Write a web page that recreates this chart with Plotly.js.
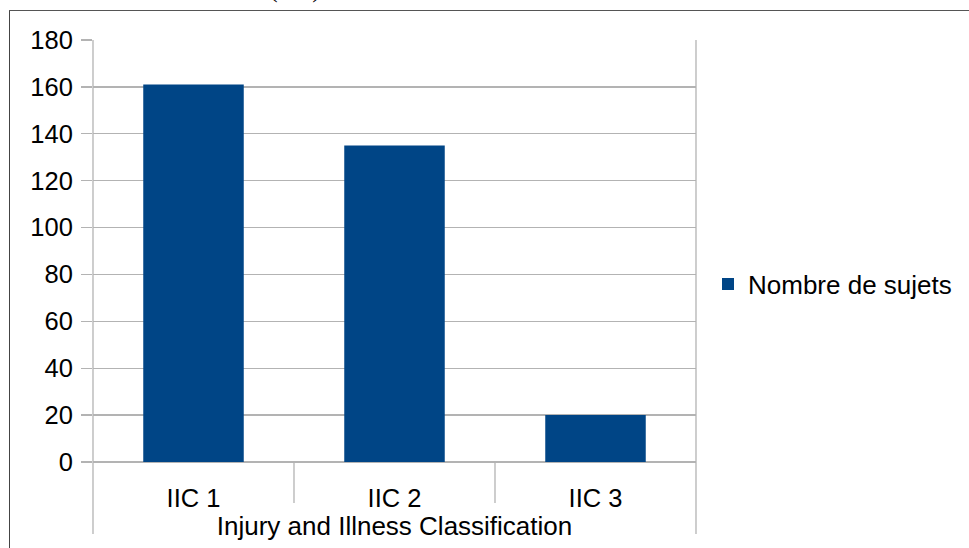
<!DOCTYPE html>
<html>
<head>
<meta charset="utf-8">
<script src="https://cdn.plot.ly/plotly-3.0.1.min.js"></script>
<style>html,body{margin:0;padding:0;background:#fff}#chart{width:969px;height:548px}</style>
</head>
<body>
<div id="chart"></div>
<script>
const categories = ["IIC 1", "IIC 2", "IIC 3"];
const values = [161, 135, 20];
const seriesName = "Nombre de sujets";
const yTicks = [0, 20, 40, 60, 80, 100, 120, 140, 160, 180];
const xTitle = "Injury and Illness Classification";
const topCaption = "(IIC)";

const FONT = "Liberation Sans, Arial, sans-serif";
const GRID = "#b3b3b3";
const plotL = 93, plotR = 696, plotT = 40, plotB = 462, W = 969, H = 548;
const pw = plotR - plotL, ph = plotB - plotT;
const px = x => (x - plotL) / pw;
const py = y => (plotB - y) / ph;

const trace = {
  type: "bar",
  x: categories,
  y: values,
  name: seriesName,
  width: 0.5,
  marker: {color: "#004586", line: {width: 0}},
  showlegend: true,
  hoverinfo: "x+y"
};

const shapes = [];
// outer frame (left + top)
shapes.push({type: "line", xref: "paper", yref: "paper", x0: px(9.5), x1: px(9.5), y0: py(10), y1: py(H + 2), line: {color: "#444", width: 1}});
shapes.push({type: "line", xref: "paper", yref: "paper", x0: px(9), x1: px(W + 2), y0: py(10.5), y1: py(10.5), line: {color: "#555", width: 1.2}});
// plot edges extending below axis
shapes.push({type: "line", xref: "paper", yref: "paper", x0: 0, x1: 0, y0: 1, y1: py(534), line: {color: GRID, width: 1.3}});
shapes.push({type: "line", xref: "paper", yref: "paper", x0: 1, x1: 1, y0: 1, y1: py(534), line: {color: GRID, width: 1.3}});
// category separators
for (let i = 0; i < categories.length - 1; i++) {
  shapes.push({type: "line", xref: "x", yref: "paper", x0: i + 0.5, x1: i + 0.5, y0: 0, y1: py(503), line: {color: GRID, width: 1.3}});
}

const layout = {
  width: W, height: H,
  margin: {l: plotL, r: W - plotR, t: plotT, b: H - plotB, pad: 0},
  paper_bgcolor: "#fff", plot_bgcolor: "#fff",
  font: {family: FONT, size: 25, color: "#000"},
  bargap: 0.5,
  showlegend: true,
  legend: {
    x: px(708), xanchor: "left", y: py(284), yanchor: "middle",
    font: {family: FONT, size: 26, color: "#000"},
    bgcolor: "rgba(0,0,0,0)", borderwidth: 0
  },
  xaxis: {
    type: "category",
    range: [-0.5, categories.length - 0.5],
    showgrid: false, zeroline: false, showline: false,
    ticks: "", ticklabelstandoff: 18,
    tickfont: {family: FONT, size: 25.5, color: "#000"},
    title: {text: xTitle, font: {family: FONT, size: 26, color: "#000"}, standoff: 4},
    automargin: false, fixedrange: true
  },
  yaxis: {
    range: [0, 180],
    tickvals: yTicks,
    ticktext: yTicks.map(String),
    showgrid: true, gridcolor: GRID, gridwidth: 1.3,
    zeroline: true, zerolinecolor: GRID, zerolinewidth: 1.3,
    showline: false,
    ticks: "outside", ticklen: 11, tickcolor: GRID, tickwidth: 1.3,
    ticklabelstandoff: 3,
    tickfont: {family: FONT, size: 25.5, color: "#000"},
    automargin: false, fixedrange: true
  },
  shapes: shapes,
  annotations: [{
    text: topCaption, xref: "paper", yref: "paper",
    x: px(295), y: py(5), xanchor: "center", yanchor: "bottom",
    showarrow: false,
    font: {family: "Liberation Serif, Times New Roman, serif", size: 26, color: "#000"}
  }]
};

Plotly.newPlot("chart", [trace], layout, {displayModeBar: false, staticPlot: true});
</script>
</body>
</html>
